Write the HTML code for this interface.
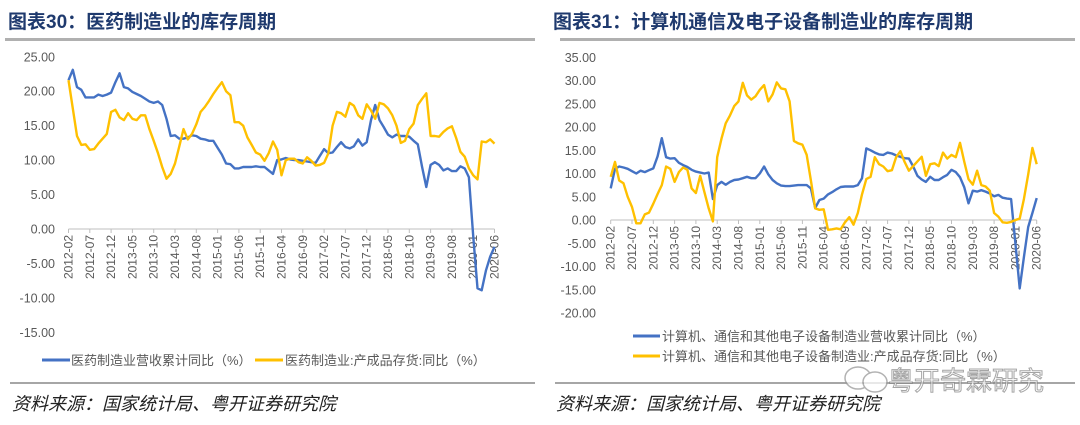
<!DOCTYPE html>
<html><head><meta charset="utf-8">
<style>
html,body{margin:0;padding:0;background:#fff;}
body{width:1080px;height:425px;overflow:hidden;position:relative;font-family:"Liberation Sans","Noto Sans CJK SC",sans-serif;}
svg{position:absolute;left:0;top:0;}
</style></head>
<body>
<svg id="chart" width="1080" height="425">
  <text x="8" y="28" font-size="19" font-weight="bold" fill="#1f3a6e" font-family="Liberation Sans,Noto Sans CJK SC,sans-serif">图表30：医药制造业的库存周期</text>
  <rect x="5" y="38" width="530" height="3" fill="#b0b0b0"/>
  <text x="553" y="28" font-size="19" font-weight="bold" fill="#1f3a6e" font-family="Liberation Sans,Noto Sans CJK SC,sans-serif">图表31：计算机通信及电子设备制造业的库存周期</text>
  <rect x="560" y="38" width="515" height="3" fill="#b0b0b0"/>

  <g id="left"></g>
  <g id="right"></g>

  <g font-size="13" fill="#595959">
    <line x1="42" y1="360" x2="70" y2="360" stroke="#4472c4" stroke-width="3"/>
    <text x="71" y="365">医药制造业营收累计同比（%）</text>
    <line x1="255" y1="360" x2="283" y2="360" stroke="#ffc000" stroke-width="3"/>
    <text x="285" y="365">医药制造业:产成品存货:同比（%）</text>
  </g>
  <g font-size="13" fill="#595959">
    <line x1="633" y1="336" x2="660" y2="336" stroke="#4472c4" stroke-width="3"/>
    <text x="662" y="341">计算机、通信和其他电子设备制造业营收累计同比（%）</text>
    <line x1="633" y1="356" x2="660" y2="356" stroke="#ffc000" stroke-width="3"/>
    <text x="662" y="361">计算机、通信和其他电子设备制造业:产成品存货:同比（%）</text>
  </g>

  <rect x="10" y="382" width="525" height="2" fill="#a6a6a6"/>
  <rect x="555" y="382" width="520" height="2" fill="#a6a6a6"/>
  <text x="12" y="410" font-size="18" font-style="italic" fill="#222">资料来源：国家统计局、粤开证券研究院</text>
  <text x="556" y="410" font-size="18" font-style="italic" fill="#222">资料来源：国家统计局、粤开证券研究院</text>
  <g opacity="0.75">
    <ellipse cx="858" cy="378" rx="13" ry="11" fill="#fff" stroke="#999" stroke-width="1.5"/>
    <ellipse cx="875" cy="382" rx="12" ry="10" fill="#fff" stroke="#999" stroke-width="1.5"/>
    <text x="888" y="390" font-size="26" fill="#fff" stroke="#888" stroke-width="1">粤开奇霖研究</text>
  </g>
</svg>
<script>
const months = [];
for (let i = 0; i <= 100; i++) { const m = 1 + i; const y = 2012 + Math.floor(m / 12); const mm = (m % 12) + 1; months.push(y + '-' + String(mm).padStart(2, '0')); }
const tickLabels = months.filter((_, i) => i % 5 === 0);

const leftTicks = [25, 20, 15, 10, 5, 0, -5, -10, -15];
const leftRevenue = [21.6,23.1,20.6,20.2,19.1,19.1,19.1,19.5,19.3,19.5,19.8,21.3,22.6,20.6,20.4,19.9,19.6,19.3,18.9,18.5,18.3,18.5,18.0,16.0,13.5,13.6,13.1,13.1,13.3,13.6,13.5,13.1,13.0,12.8,12.8,11.8,10.8,9.5,9.4,8.8,8.8,9.0,9.0,9.0,9.1,9.0,9.0,8.5,8.0,10.0,10.1,10.3,10.1,10.0,10.0,9.9,9.8,9.7,9.6,10.6,11.6,11.0,11.1,11.9,12.6,11.9,11.7,12.0,13.0,12.1,12.6,15.8,18.0,15.8,14.8,13.7,13.3,13.7,13.5,13.5,13.4,12.8,12.3,9.0,6.1,9.3,9.7,9.3,8.5,8.8,8.4,8.4,9.1,8.8,7.5,-1.0,-8.6,-8.9,-6.0,-4.0,-2.6];
const leftInventory = [21.6,17.5,13.5,12.2,12.3,11.5,11.6,12.4,13.1,13.8,17.0,17.3,16.2,15.8,16.8,16.0,15.8,16.5,16.5,14.5,12.8,11.0,9.0,7.3,8.0,9.5,12.0,14.5,13.0,13.8,15.2,17.0,17.7,18.6,19.6,20.5,21.3,20.0,19.4,15.5,15.5,15.0,13.3,12.2,11.1,10.8,9.9,11.0,12.7,11.5,7.8,10.0,10.2,10.2,9.7,9.5,10.4,9.9,9.2,9.3,9.6,11.0,15.0,17.0,16.8,16.3,18.3,17.9,16.5,16.0,18.1,17.2,16.0,18.3,18.1,17.5,16.5,15.0,12.5,12.8,14.5,15.3,18.0,18.9,19.7,13.5,13.5,13.4,14.1,14.6,14.9,13.2,11.2,10.5,8.8,7.8,7.2,12.7,12.6,13.0,12.4];

const rightTicks = [35, 30, 25, 20, 15, 10, 5, 0, -5, -10, -15, -20];
const rightRevenue = [6.8,11.0,11.5,11.3,11.0,10.5,10.0,10.6,10.3,10.7,11.1,13.7,17.6,13.5,13.2,13.3,12.3,11.8,11.4,10.8,10.4,10.2,10.0,10.2,4.5,7.5,8.2,7.6,8.2,8.6,8.7,9.0,9.3,9.0,9.0,10.0,11.5,9.8,8.6,7.9,7.4,7.3,7.3,7.4,7.5,7.5,7.5,6.8,2.6,4.3,4.6,5.5,6.0,6.6,7.1,7.2,7.2,7.2,7.5,9.0,15.4,15.0,14.5,14.1,14.0,14.5,14.3,13.9,13.6,13.3,13.2,11.5,9.5,8.7,8.2,9.3,8.6,8.6,9.2,9.7,10.8,10.3,9.2,7.0,3.6,6.3,6.1,6.4,6.1,5.7,5.1,5.4,4.8,4.6,4.5,-5.0,-14.7,-8.0,-1.5,1.5,4.7];
const rightInventory = [9.3,12.5,8.5,7.9,5.0,2.8,-0.7,-0.7,1.2,1.6,3.5,5.6,7.5,11.5,11.0,8.2,10.3,11.3,10.8,6.8,5.8,9.5,6.0,2.5,-0.3,13.5,17.5,20.8,22.5,24.5,25.5,29.5,26.8,25.9,26.6,28.0,29.0,25.5,27.0,29.6,28.3,28.1,25.5,17.0,16.5,16.2,14.0,8.5,2.5,2.2,2.3,-2.1,-2.0,-1.8,-2.0,-0.5,0.6,-1.0,1.5,5.5,8.8,9.3,13.5,12.0,11.5,10.5,10.7,13.5,14.8,12.5,10.6,11.6,12.6,13.6,9.5,12.0,12.2,11.6,14.5,13.2,14.0,13.5,16.6,12.5,8.8,7.6,10.6,7.5,7.2,6.3,1.5,0.7,-0.5,-0.6,-0.4,0.0,0.3,4.5,9.8,15.5,12.0];

const NS = 'http://www.w3.org/2000/svg';
function mk(tag, attrs, parent) { const e = document.createElementNS(NS, tag); for (const k in attrs) e.setAttribute(k, attrs[k]); parent.appendChild(e); return e; }

function drawChart(g, cfg, ticks, s1, s2, prefix) {
  const xScale = i => cfg.x0 + (cfg.x1 - cfg.x0) * i / (months.length - 1);
  const yScale = v => cfg.zeroY - v * cfg.ppu;
  ticks.forEach(t => {
    const tx = mk('text', { x: cfg.labelX, y: yScale(t) + 4.5, 'text-anchor': 'end', 'font-size': 12.5, fill: '#595959' }, g);
    tx.textContent = t.toFixed(2);
    
    
  });
  const ax = mk('line', { x1: cfg.x0, x2: cfg.x1, y1: yScale(0), y2: yScale(0), stroke: '#bfbfbf', 'stroke-width': 1 }, g);
  
  
  months.forEach((m, i) => {
    if (i % 5 !== 0) return;
    const x = xScale(i);
    const tk = mk('line', { x1: x, x2: x, y1: yScale(0), y2: yScale(0) + 4, stroke: '#bfbfbf' }, g);
    
    
    const lb = mk('text', { x: 0, y: 0, 'text-anchor': 'end', 'font-size': 12, fill: '#595959', transform: `translate(${x + 4},${yScale(0) + 6}) rotate(-90)` }, g);
    lb.textContent = m;
    
    
  });
  [[s1, '#4472c4', 'revenue'], [s2, '#ffc000', 'inventory']].forEach(([s, c, n]) => {
    const d = s.map((v, i) => (i ? 'L' : 'M') + xScale(i).toFixed(1) + ',' + yScale(v).toFixed(1)).join('');
    const p = mk('path', { d: d, fill: 'none', stroke: c, 'stroke-width': 2.4, 'stroke-linejoin': 'round' }, g);
    
    
  });
}
drawChart(document.getElementById('left'), { x0: 68.5, x1: 494.5, zeroY: 229, ppu: 6.89, labelX: 55 }, leftTicks, leftRevenue, leftInventory, 'left');
drawChart(document.getElementById('right'), { x0: 610.7, x1: 1036.7, zeroY: 220, ppu: 4.65, labelX: 596 }, rightTicks, rightRevenue, rightInventory, 'right');
</script>
</body></html>
